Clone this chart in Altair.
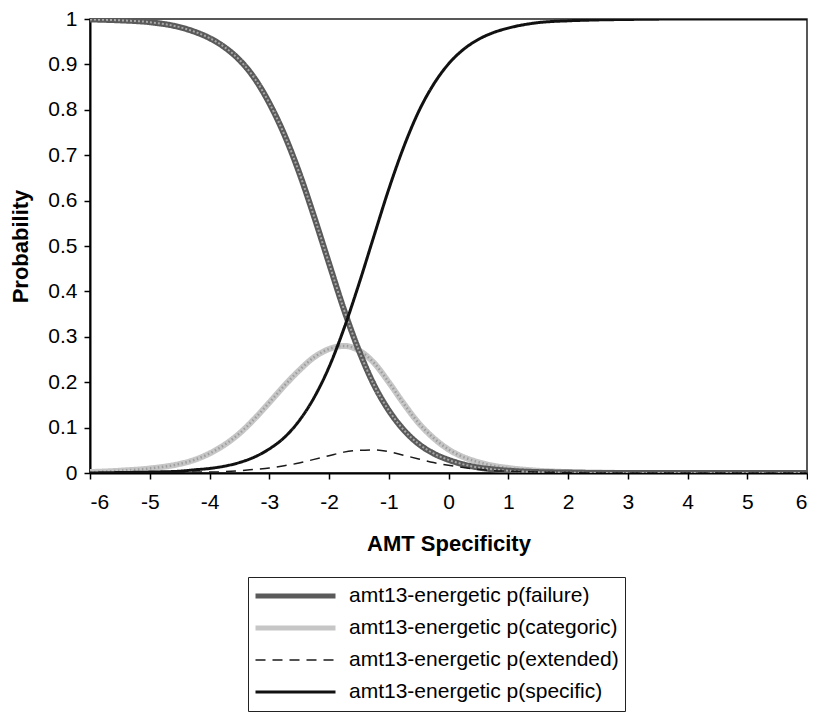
import altair as alt
import pandas as pd

x_vals = [-6, -5.5, -5, -4.5, -4.25, -4, -3.75, -3.5, -3.25, -3, -2.75, -2.5, -2.25, -2,
          -1.75, -1.5, -1.25, -1, -0.75, -0.5, -0.25, 0, 0.25, 0.5, 0.75, 1, 1.5, 2, 2.5,
          3, 4, 5, 6]

p_failure = [0.999, 0.997, 0.993, 0.982, 0.972, 0.958, 0.938, 0.910, 0.870, 0.815, 0.746,
             0.662, 0.565, 0.462, 0.360, 0.270, 0.195, 0.138, 0.095, 0.064, 0.043, 0.029,
             0.019, 0.012, 0.008, 0.005, 0.002, 0.001, 0.000, 0.000, 0.000, 0.000, 0.000]

p_categoric = [0.002, 0.005, 0.010, 0.020, 0.029, 0.043, 0.062, 0.087, 0.119, 0.155, 0.192,
               0.226, 0.255, 0.273, 0.280, 0.270, 0.243, 0.200, 0.153, 0.110, 0.077, 0.052,
               0.035, 0.024, 0.016, 0.011, 0.005, 0.002, 0.001, 0.000, 0.000, 0.000, 0.000]

p_extended = [0.000, 0.000, 0.000, 0.001, 0.002, 0.002, 0.003, 0.005, 0.008, 0.011, 0.016,
              0.022, 0.030, 0.038, 0.046, 0.050, 0.051, 0.047, 0.039, 0.031, 0.023, 0.017,
              0.012, 0.008, 0.005, 0.004, 0.002, 0.001, 0.000, 0.000, 0.000, 0.000, 0.000]

p_specific = [0.000, 0.001, 0.002, 0.004, 0.007, 0.010, 0.015, 0.023, 0.035, 0.053, 0.078,
              0.115, 0.166, 0.233, 0.318, 0.416, 0.521, 0.625, 0.718, 0.796, 0.856, 0.901,
              0.933, 0.955, 0.970, 0.980, 0.992, 0.996, 0.998, 0.999, 1.000, 1.000, 1.000]

names = ["amt13-energetic p(failure)", "amt13-energetic p(categoric)",
         "amt13-energetic p(extended)", "amt13-energetic p(specific)"]

x_ticks = [-6, -5, -4, -3, -2, -1, 0, 1, 2, 3, 4, 5, 6]
y_ticks = [0, 0.1, 0.2, 0.3, 0.4, 0.5, 0.6, 0.7, 0.8, 0.9, 1]

rows = []
for name, ys in zip(names, [p_failure, p_categoric, p_extended, p_specific]):
    for xv, yv in zip(x_vals, ys):
        rows.append({"x": xv, "p": yv, "series": name})
df = pd.DataFrame(rows)

FONT = "Liberation Sans"

color_scale = alt.Scale(domain=names, range=["#5a5a5a", "#c6c6c6", "#1a1a1a", "#111111"])
dash_scale = alt.Scale(domain=names, range=[[1, 0], [1, 0], [10, 7], [1, 0]])

width_expr = (f"datum.value == '{names[2]}' ? 1.5 : "
              f"(datum.value == '{names[3]}' ? 3 : 5)")

leg = alt.Legend(
    title=None, orient="none", legendX=158, legendY=558,
    symbolType="stroke", symbolSize=6400, symbolStrokeWidth={"expr": width_expr},
    clipHeight=26, rowPadding=6, padding=6, symbolOffset=31, labelOffset=43,
    labelFont=FONT, labelFontSize=21, labelColor="black", labelLimit=500,
    strokeColor="#222222", fillColor="white",
)

x_enc = alt.X("x:Q", scale=alt.Scale(domain=[-6, 6], nice=False),
              axis=alt.Axis(values=x_ticks, labelExpr="datum.value + ''",
                            title="AMT Specificity", labelPadding=12, titlePadding=21))
y_enc = alt.Y("p:Q", scale=alt.Scale(domain=[0, 1], nice=False),
              axis=alt.Axis(values=y_ticks, format=".1~f", title="Probability",
                            labelPadding=7, titlePadding=15))

base = alt.Chart(df)


def series_layer(name, width):
    return base.transform_filter(alt.datum.series == name).mark_line(
        clip=True, interpolate="monotone", strokeWidth=width
    ).encode(
        x=x_enc, y=y_enc,
        color=alt.Color("series:N", scale=color_scale, legend=leg),
        strokeDash=alt.StrokeDash("series:N", scale=dash_scale, legend=leg),
    )


def texture_layer(name, color, width, dash):
    return base.transform_filter(alt.datum.series == name).mark_line(
        clip=True, interpolate="monotone", color=color, strokeWidth=width, strokeDash=dash
    ).encode(x=x_enc, y=y_enc)


chart = alt.layer(
    series_layer(names[1], 6),
    texture_layer(names[1], "#9e9e9e", 2.5, [1.5, 2.5]),
    series_layer(names[0], 6),
    texture_layer(names[0], "#a8a8a8", 2, [2, 2]),
    series_layer(names[2], 1.5),
    series_layer(names[3], 3),
).properties(
    width=717, height=454,
    autosize=alt.AutoSizeParams(type="none"),
    padding={"left": 82, "top": 11, "right": 1, "bottom": 240},
    background="white",
).configure_view(
    stroke="#222222", strokeWidth=1.5
).configure_axis(
    grid=False, domainColor="black", domainWidth=2, tickColor="black", tickWidth=1.5,
    tickSize=6, labelFont=FONT, labelFontSize=21, labelColor="black",
    titleFont=FONT, titleFontSize=22, titleFontWeight="bold", titleColor="black",
)

chart.save("out.html", embed_options={"renderer": "svg", "actions": False})
